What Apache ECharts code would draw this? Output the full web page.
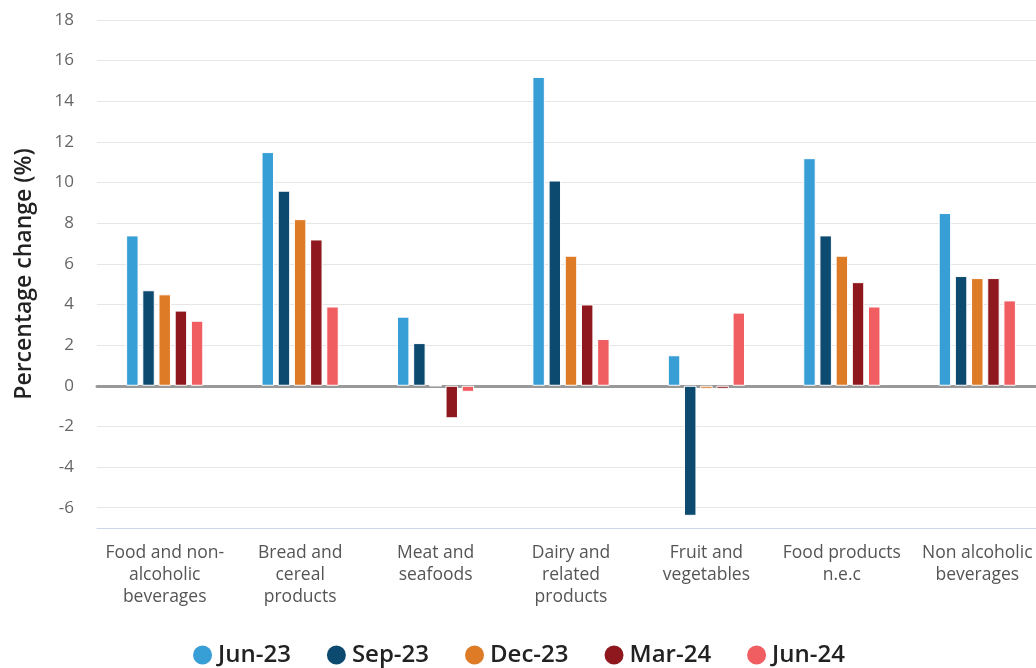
<!DOCTYPE html>
<html>
<head>
<meta charset="utf-8">
<script src="https://cdn.jsdelivr.net/npm/echarts@6/dist/echarts.min.js"></script>
<style>
  html, body { margin: 0; padding: 0; background: #fff; }
  #chart { width: 1036px; height: 668px; }
</style>
</head>
<body>
<div id="chart"></div>
<script>
const categories = ['Food and non-\nalcoholic\nbeverages', 'Bread and\ncereal\nproducts', 'Meat and\nseafoods',
  'Dairy and\nrelated\nproducts', 'Fruit and\nvegetables', 'Food products\nn.e.c', 'Non alcoholic\nbeverages'];
const jun23 = [7.4, 11.5, 3.4, 15.2, 1.5, 11.2, 8.5];
const sep23 = [4.7, 9.6, 2.1, 10.1, -6.4, 7.4, 5.4];
const dec23 = [4.5, 8.2, 0, 6.4, -0.15, 6.4, 5.3];
const mar24 = [3.7, 7.2, -1.6, 4.0, -0.15, 5.1, 5.3];
const jun24 = [3.2, 3.9, -0.3, 2.3, 3.6, 3.9, 4.2];
const yTicks = [-6, -4, -2, 0, 2, 4, 6, 8, 10, 12, 14, 16, 18];

const seriesNames = ['Jun-23', 'Sep-23', 'Dec-23', 'Mar-24', 'Jun-24'];
const seriesData = [jun23, sep23, dec23, mar24, jun24];
const colors = ['#379ed6', '#0d4a70', '#de7b26', '#8e181e', '#f05e62'];

var myChart = echarts.init(document.getElementById('chart'));
var option = {
    color: colors,
    textStyle: { fontFamily: 'Open Sans' },
    grid: { left: 97, right: -9, top: 20, bottom: 140, outerBoundsMode: 'none' },
    legend: {
        top: 638,
        left: 'center',
        icon: 'circle',
        itemWidth: 21,
        itemHeight: 21,
        itemGap: 34,
        textStyle: { fontSize: 24, fontWeight: 600, color: '#222', fontFamily: 'Open Sans' }
    },
    xAxis: [
        {
            type: 'category',
            data: categories,
            axisLine: { onZero: false, lineStyle: { color: '#ccd6eb', width: 1 } },
            axisTick: { show: false },
            axisLabel: { interval: 0, color: '#555', fontSize: 17.5, lineHeight: 22, margin: 14 }
        },
        {
            type: 'category',
            data: categories,
            position: 'bottom',
            axisLine: { onZero: true, lineStyle: { color: '#999', width: 3 } },
            axisTick: { show: false },
            axisLabel: { show: false }
        }
    ],
    yAxis: {
        type: 'value',
        min: -7,
        max: 18,
        name: 'Percentage change (%)',
        nameLocation: 'middle',
        nameGap: 61,
        nameTextStyle: { fontSize: 23, fontWeight: 600, color: '#222' },
        axisLine: { show: false },
        axisTick: { show: false, customValues: yTicks },
        axisLabel: { customValues: yTicks, color: '#666', fontSize: 17, margin: 23 },
        splitLine: { lineStyle: { color: '#e6e6e6', width: 1 } }
    },
    series: seriesNames.map(function (name, i) {
        return {
            name: name,
            type: 'bar',
            xAxisIndex: 0,
            data: seriesData[i],
            barGap: '30%',
            barCategoryGap: '43%',
            itemStyle: { borderColor: '#fff', borderWidth: 1 }
        };
    })
};
myChart.setOption(option);
window.addEventListener('resize', () => {
    myChart.resize()
})
</script>
</body>
</html>
